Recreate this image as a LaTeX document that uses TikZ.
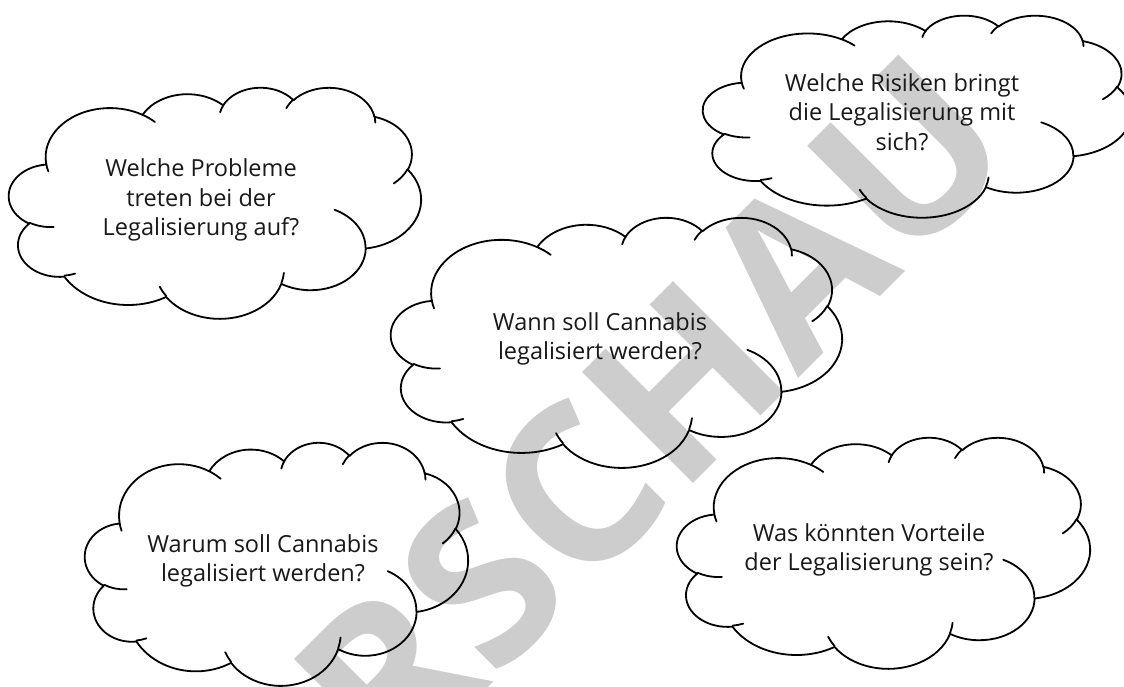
\documentclass[tikz,border=0pt]{standalone}
\usepackage{fontspec}
\setmainfont{Open Sans}
\newfontfamily\wmfont{Open Sans}
\definecolor{wmgray}{RGB}{205,205,205}
\pgfmathdeclarefunction{pang}{3}{\pgfmathparse{atan2((#1)*sin(#3),(#2)*cos(#3))}}
\pgfmathdeclarefunction{dang}{4}{\pgfmathparse{mod(pang(#1,#2,(#3)+(#4))-pang(#1,#2,#3)+720,360)}}
\newcommand\oarc[4]{arc[x radius=#1, y radius=#2, start angle={pang(#1,#2,#3)}, delta angle={dang(#1,#2,#3,#4)}]}
\newcommand\cloudat[4]{%
\begin{scope}[shift={(#1,-#2)},xscale=#3/432,yscale=-#4/432]
\draw[cloudline] (39.00,143.70)
 \oarc{67.53}{91.90}{-190.48748}{123.78053}
 \oarc{53.33}{72.67}{-144.10238}{89.94523}
 \oarc{43.65}{59.45}{-145.80792}{99.72302}
 \oarc{48.57}{65.95}{-130.98607}{117.24173}
 \oarc{53.33}{72.73}{-78.70888}{109.02692}
 \oarc{67.75}{92.20}{-46.26725}{130.26900}
 \oarc{57.85}{78.67}{0.62502}{114.03333}
 \oarc{67.52}{92.15}{22.45160}{115.17255}
 \oarc{77.20}{105.43}{66.24263}{75.71102}
 \oarc{43.60}{59.18}{-274.94208}{146.73557}
 \oarc{43.45}{59.45}{-246.82850}{152.51885}
 -- cycle;
\draw[cloudline]
 (46.93,261.77) \oarc{43.45}{59.45}{86.742}{26.4295}
 (69.28,348.99) \oarc{43.60}{59.18}{73.61047}{11.44747}
 (164.78,390.90) \oarc{67.52}{92.15}{137.62415}{14.0811}
 (288.27,347.51) \oarc{67.52}{92.15}{6.45327}{15.99835}
 (341.29,229.54) \oarc{57.85}{78.67}{-70.29235}{70.91737}
 (417.98,153.54) \oarc{53.33}{72.73}{30.31803}{27.7515}
 (383.24,54.26) \oarc{48.57}{65.95}{-13.74433}{14.8589}
 (290.78,39.52) \oarc{48.57}{65.95}{-149.18145}{18.19537}
 (221.41,47.20) \oarc{43.65}{59.45}{-163.49427}{17.68635}
 (140.00,51.92) \oarc{67.53}{91.90}{-66.70695}{12.31935}
 (41.27,157.89) \oarc{67.53}{91.90}{157.65435}{11.85817};
\end{scope}}
\begin{document}
\begin{tikzpicture}[x=1pt,y=1pt,
  cloudline/.style={line width=1.8pt,line join=round,line cap=round,draw=black},
  qtext/.style={align=center,font=\fontsize{23.5}{29.5}\selectfont,inner sep=0pt,text=black!90},
  wmark/.style={rotate=45,text=wmgray,inner sep=0pt,font=\wmfont\bfseries\fontsize{220}{220}\selectfont}]
\fill[white] (0,0) rectangle (1124,-686);
\useasboundingbox (0,0) rectangle (1124,-686);
\node[wmark] (wm) at (540,-525) {VORSCHAU};
\cloudat{9}{87}{412}{231}
\cloudat{703}{15}{428}{202}
\cloudat{391}{217}{451}{250}
\cloudat{85}{442}{383}{243}
\cloudat{677}{437}{413}{231}
\node[qtext] (q1) at (201,-200) {Welche Probleme\\treten bei der\\Legalisierung auf?};
\node[qtext] (q2) at (902,-112) {Welche Risiken bringt\\die Legalisierung mit\\sich?};
\node[qtext] (q3) at (600,-339) {Wann soll Cannabis\\legalisiert werden?};
\node[qtext] (q4) at (263,-561) {Warum soll Cannabis\\legalisiert werden?};
\node[qtext] (q5) at (869,-550) {Was könnten Vorteile\\der Legalisierung sein?};
\end{tikzpicture}
\end{document}
